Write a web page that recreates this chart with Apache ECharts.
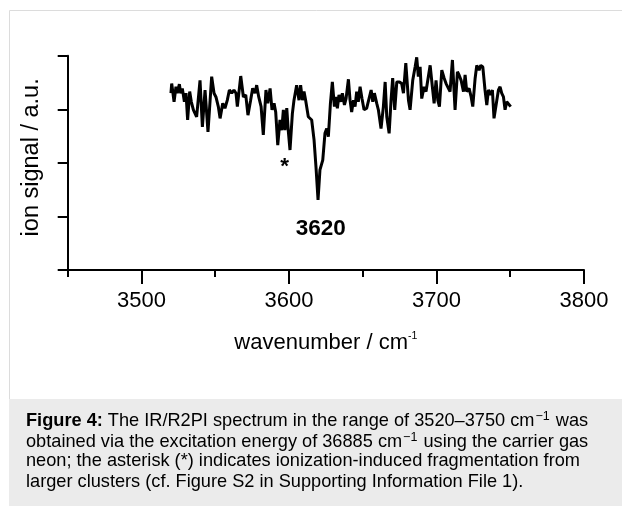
<!DOCTYPE html>
<html>
<head>
<meta charset="utf-8">
<script src="https://cdn.jsdelivr.net/npm/echarts@6/dist/echarts.min.js"></script>
<style>
html,body{margin:0;padding:0;background:#fff;}
#c{width:622px;height:506px;}
</style>
</head>
<body>
<div id="c"></div>
<script>
// wavenumber (cm^-1) and ion signal (a.u.)
const wavenumber = [3520,3520.5,3522.1,3523.4,3524.3,3525.7,3526.6,3527.7,3529.1,3530.2,3531.3,3532.7,3533.8,3535.2,3537.4,3539.7,3541.3,3543.1,3545.1,3547.6,3549.2,3550.5,3552.1,3553.3,3555.1,3556.6,3558.2,3559.6,3561.2,3562.7,3564.1,3565.0,3567.3,3569.1,3570.7,3572.2,3574.0,3575.4,3577.0,3578.1,3579.5,3581.1,3582.6,3584.4,3585.6,3587.2,3588.5,3589.9,3591.0,3592.4,3593.9,3595.1,3596.2,3597.3,3598.5,3599.6,3600.7,3602.3,3603.4,3605.2,3606.8,3607.9,3609.1,3610.2,3611.3,3613.1,3615.4,3617.0,3618.3,3619.7,3621.0,3622.9,3624.4,3625.6,3626.7,3628.1,3629.4,3630.8,3631.7,3632.8,3633.9,3635.1,3636.2,3637.6,3638.7,3640.3,3641.4,3642.5,3643.7,3644.8,3645.9,3647.0,3648.2,3649.5,3650.9,3652.7,3653.9,3655.7,3656.8,3657.9,3659.5,3660.6,3662.4,3664.0,3665.2,3666.3,3667.9,3669.2,3670.3,3671.7,3673.1,3674.9,3676.4,3677.6,3679.2,3681.0,3682.1,3683.9,3685.5,3686.6,3687.7,3688.9,3690.0,3691.6,3692.9,3694.5,3695.7,3697.2,3698.4,3699.7,3700.9,3702.0,3703.6,3705.2,3706.5,3708.1,3709.2,3710.8,3712.6,3714.2,3715.3,3716.7,3718.3,3719.4,3720.5,3722.1,3723.5,3724.6,3726.2,3727.3,3728.9,3730.0,3731.4,3732.9,3734.1,3735.2,3736.8,3737.9,3739.0,3740.9,3742.0,3743.1,3744.2,3745.4,3746.5,3747.6,3748.8,3750.3];
const ionSignal = [3.30,3.48,3.14,3.42,3.30,3.47,3.30,3.39,3.14,3.30,2.80,3.33,3.14,2.99,2.86,3.54,2.67,3.36,2.58,3.61,3.30,3.23,3.05,2.83,3.11,3.02,3.17,3.36,3.30,3.36,3.30,3.05,3.62,3.23,3.27,2.89,3.17,3.39,3.30,3.45,3.23,3.05,2.52,3.36,3.11,3.39,2.99,3.11,2.95,2.33,2.80,2.61,2.99,2.61,3.02,2.58,2.24,2.92,3.17,3.45,3.17,3.45,3.17,3.33,3.17,2.86,2.80,2.43,1.93,1.31,1.87,2.05,2.55,2.64,2.49,3.11,3.51,3.05,3.23,3.02,3.27,3.14,3.30,3.08,3.20,3.56,3.17,2.95,3.17,3.05,3.33,3.14,3.42,3.20,2.99,3.02,2.99,3.36,3.14,3.30,3.11,2.99,2.64,3.05,3.51,2.86,2.55,3.17,3.58,2.99,3.51,3.51,3.48,3.30,3.86,3.17,2.99,3.54,3.79,3.97,3.61,3.79,3.20,3.42,3.33,3.61,3.82,3.42,3.11,3.54,3.17,3.05,3.73,3.58,3.48,3.39,3.33,3.92,2.99,3.70,3.64,3.54,3.33,3.64,3.33,3.39,3.23,3.05,3.58,3.82,3.73,3.82,3.79,3.36,3.08,3.36,3.27,3.36,2.83,3.17,3.36,3.42,3.30,3.23,2.99,3.14,3.11,3.05];

const xMajorTicks = [3500, 3600, 3700, 3800];
const xMinorTicks = [3450, 3550, 3650, 3750];
const annotations = [[3597.0, 1.93, '*'], [3621.5, 0.76, '3620']];

const xTitle = 'wavenumber / cm';
const yTitle = 'ion signal / a.u.';
const captionLines = [
  ['Figure 4:', ' The IR/R2PI spectrum in the range of 3520\u20133750 cm', '\u22121', ' was'],
  ['', 'obtained via the excitation energy of 36885 cm', '\u22121', ' using the carrier gas'],
  ['', 'neon; the asterisk (*) indicates ionization-induced fragmentation from', '', ''],
  ['', 'larger clusters (cf. Figure S2 in Supporting Information File 1).', '', '']
];

const FONT = '"Liberation Sans", Arial, sans-serif';
const lineData = wavenumber.map((w, i) => [w, ionSignal[i]]);

const chart = echarts.init(document.getElementById('c'), null, {renderer: 'canvas'});

const captionElems = captionLines.map((ln, i) => {
  let s = '';
  if (ln[0]) s += '{b|' + ln[0] + '}';
  s += '{n|' + ln[1] + '}';
  if (ln[2]) s += '{sup|' + ln[2] + '}';
  if (ln[3]) s += '{n|' + ln[3] + '}';
  return {
    type: 'text', left: 26, top: 410.5 + i * 20.8,
    style: {
      text: s, fill: '#000',
      rich: {
        b: {fontFamily: FONT, fontSize: 18.2, fontWeight: 'bold', fill: '#000', lineHeight: 21},
        n: {fontFamily: FONT, fontSize: 18.2, fill: '#000', lineHeight: 21},
        sup: {fontFamily: FONT, fontSize: 12.5, fill: '#000', lineHeight: 21, verticalAlign: 'top', padding: [0, 1, 0, 1]}
      }
    }
  };
});

chart.setOption({
  animation: false,
  backgroundColor: '#fff',
  grid: {left: 67.7, right: 38, top: 55.7, bottom: 236},
  xAxis: [{
    type: 'value', min: 3450, max: 3800, interval: 50,
    axisLine: {show: true, onZero: false, lineStyle: {color: '#000', width: 2}},
    axisTick: {show: true, customValues: xMajorTicks, length: 14, lineStyle: {color: '#000', width: 2}},
    axisLabel: {customValues: xMajorTicks, color: '#000', fontFamily: FONT, fontSize: 22, margin: 20,
      formatter: v => String(v)},
    splitLine: {show: false},
    name: '{t|' + xTitle + '}{s|-1}',
    nameLocation: 'middle', nameGap: 61,
    nameTextStyle: {
      rich: {
        t: {fontFamily: FONT, fontSize: 22, color: '#000', lineHeight: 24},
        s: {fontFamily: FONT, fontSize: 10.5, color: '#000', lineHeight: 24, verticalAlign: 'top'}
      }
    }
  }, {
    type: 'value', min: 3450, max: 3800, interval: 50, position: 'bottom',
    axisLine: {show: false},
    axisTick: {show: true, customValues: xMinorTicks, length: 7, lineStyle: {color: '#000', width: 2}},
    axisLabel: {show: false},
    splitLine: {show: false}
  }],
  yAxis: {
    type: 'value', min: 0, max: 4, interval: 1,
    axisLine: {show: true, lineStyle: {color: '#000', width: 2}},
    axisTick: {show: true, length: 10, lineStyle: {color: '#000', width: 2}},
    axisLabel: {show: false},
    splitLine: {show: false},
    name: yTitle, nameLocation: 'middle', nameGap: 24, nameRotate: 90,
    nameTextStyle: {fontFamily: FONT, fontSize: 23.5, color: '#000', padding: [0, 0, 0, 11]}
  },
  series: [{
    type: 'line', data: lineData, showSymbol: false, symbol: 'none',
    lineStyle: {color: '#000', width: 3}, smooth: false, z: 3
  }, {
    type: 'scatter', data: annotations, symbolSize: 0,
    itemStyle: {opacity: 1},
    label: {
      show: true, position: 'inside', color: '#000', opacity: 1, textBorderWidth: 0,
      fontFamily: FONT, fontWeight: 'bold', fontSize: 22.5,
      formatter: p => p.value[2]
    }
  }],
  graphic: [
    {type: 'rect', shape: {x: 9.5, y: 10.5, width: 640, height: 600}, style: {fill: 'none', stroke: '#dcdcdc', lineWidth: 1}, silent: true, z: -10},
    {type: 'rect', shape: {x: 9, y: 399, width: 620, height: 120}, style: {fill: '#ebebeb'}, silent: true, z: -9}
  ].concat(captionElems)
});
</script>
</body>
</html>
